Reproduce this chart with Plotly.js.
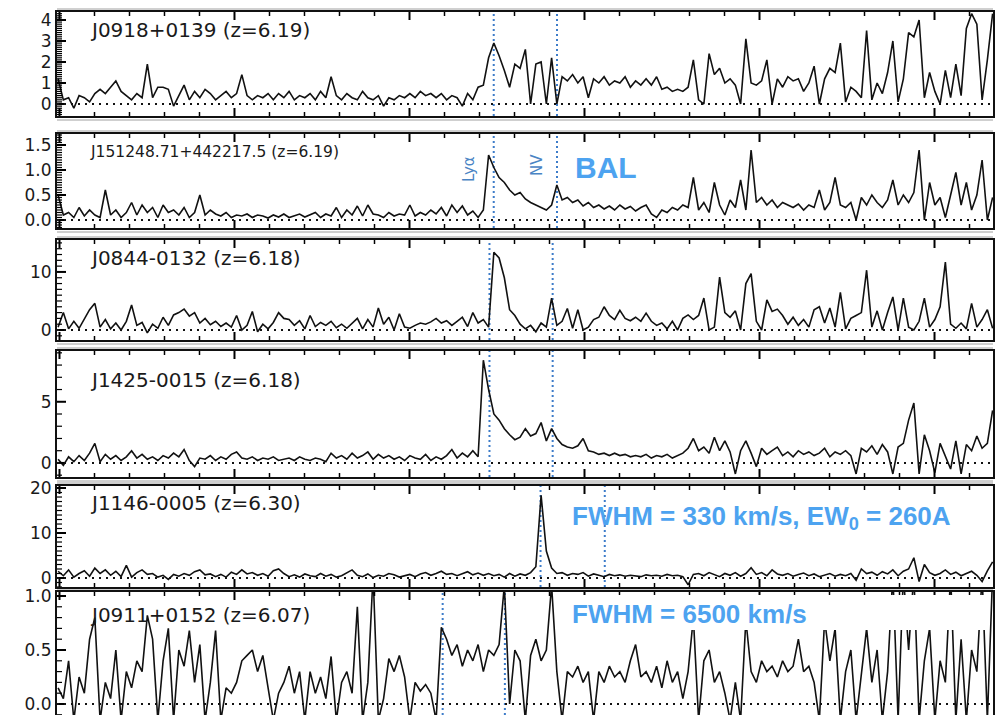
<!DOCTYPE html>
<html><head><meta charset="utf-8">
<script src="https://cdn.plot.ly/plotly-3.0.1.min.js"></script>
<style>html,body{margin:0;padding:0;background:#fff}#chart{width:995px;height:715px}</style>
</head><body><div id="chart"></div><script>
// ---------------- data ----------------
const quasars = ['J0918+0139', 'J151248.71+442217.5', 'J0844-0132', 'J1425-0015', 'J1146-0005', 'J0911+0152'];
const redshifts = [6.19, 6.19, 6.18, 6.18, 6.30, 6.07];
const zLabels = ['6.19', '6.19', '6.18', '6.18', '6.30', '6.07'];
const restLya = 1215.67;   // Angstrom
const restNV = 1240.81;    // Angstrom
const lambdaStart = 7496;  // first sample, Angstrom
const lambdaStep = 15;     // sample spacing, Angstrom

const flux1 = [1.2,0.2,0.3,-0.2,0.4,0.3,0.1,0.5,0.7,0.5,
  0.8,1.1,0.6,0.4,0.2,0.5,0.3,1.9,0.3,0.8,
  0.8,0.7,-0.1,0.4,0.9,0.2,0.6,0.3,0.7,0.5,
  0.2,0.4,0.6,0.3,0.5,1.4,0.4,0.2,0.4,0.3,
  0.5,0.2,0.5,0.3,0.6,0.2,0.4,0.3,0.5,0.2,
  0.6,0.3,1.3,0.4,0.2,0.5,0.3,0.2,0.6,0.3,
  0.2,0.4,-0.1,0.3,0.2,0.4,0.3,0.5,0.3,0.6,
  0.4,0.5,0.3,0.5,0.2,0.4,0.3,-0.1,0.5,0.2,
  0.8,0.9,2.2,2.9,2.3,1.6,0.8,1.9,1.7,2.6,
  0.0,1.9,2.0,0.0,2.2,0.0,1.3,1.1,1.4,1.0,
  1.3,0.3,1.2,1.0,1.3,0.9,1.1,1.0,1.3,0.8,
  1.1,0.9,1.2,0.9,1.3,0.7,0.8,0.6,0.7,0.6,
  0.8,2.1,0.2,0.0,2.4,1.4,1.7,1.0,1.2,0.9,
  0.0,3.1,1.0,0.9,1.1,2.1,0.0,1.2,0.8,1.3,
  1.1,1.2,0.6,1.0,1.8,0.0,1.2,1.7,1.5,2.9,
  0.1,0.8,0.6,0.3,3.5,0.2,1.0,0.5,1.5,3.0,
  0.1,1.2,3.4,3.2,4.0,0.3,1.5,0.6,0.0,1.6,
  0.3,1.9,0.4,3.6,4.3,3.8,0.2,2.1,4.3];

const flux2 = [0.5,0.1,0.15,0.05,0.25,0.08,0.2,0.1,0.05,0.6,
  0.1,0.2,0.05,0.15,0.35,0.1,0.3,0.15,0.25,0.05,
  0.3,0.15,0.2,0.1,0.25,0.05,0.15,0.5,0.1,0.2,
  0.12,0.08,0.15,0.05,0.1,0.08,0.12,0.05,0.1,0.08,
  0.04,0.1,0.06,0.12,0.05,0.08,0.12,0.06,0.1,0.15,
  0.05,0.12,0.08,0.25,0.05,0.2,0.1,0.28,0.08,0.3,
  0.12,0.1,0.05,0.15,0.08,0.12,0.1,0.3,0.08,0.15,
  0.1,0.2,0.12,0.25,0.08,0.3,0.15,0.28,0.1,0.18,
  0.05,0.2,1.3,1.05,0.85,0.75,0.6,0.5,0.55,0.42,
  0.35,0.3,0.25,0.2,0.3,0.7,0.4,0.45,0.35,0.4,
  0.28,0.35,0.25,0.3,0.22,0.28,0.2,0.3,0.22,0.27,
  0.18,0.25,0.3,0.12,0.05,0.2,0.15,0.25,0.2,0.3,
  0.25,0.85,0.2,0.35,0.15,0.75,0.3,0.1,0.4,0.25,
  0.8,0.2,1.4,0.35,0.45,0.3,0.4,0.25,0.35,0.3,
  0.25,0.32,0.2,0.3,0.25,0.6,0.2,0.35,0.85,0.3,
  0.25,0.35,0.0,0.45,0.3,0.5,0.35,0.25,0.4,0.8,
  0.3,0.5,0.35,0.55,1.4,0.0,0.75,0.3,0.45,0.05,
  0.5,0.95,0.3,0.75,0.2,0.5,1.2,0.0,0.45];

const flux3 = [0.5,3.0,0.2,1.5,0.3,2.0,3.5,4.6,0.5,1.8,
  0.2,1.2,0.0,1.5,4.3,0.8,1.3,-0.5,1.0,0.3,
  2.2,0.8,2.6,3.0,3.6,2.4,3.0,1.2,2.0,0.9,
  1.5,0.6,1.2,0.5,2.5,0.0,0.8,3.2,-0.3,1.0,
  0.2,1.3,3.0,2.0,1.8,0.8,1.6,0.2,2.5,0.6,
  1.3,0.8,1.5,0.4,1.0,0.3,1.2,2.0,0.2,1.8,
  0.5,3.8,1.0,2.2,0.0,2.8,0.5,0.3,0.8,1.2,
  1.0,1.4,2.0,1.2,1.6,0.8,1.5,2.2,0.6,3.0,
  1.2,1.8,0.5,13.4,12.4,9.0,3.5,2.5,1.0,0.2,
  0.8,-0.3,1.2,0.5,5.5,0.8,1.5,3.7,0.3,3.5,
  0.0,0.5,1.8,2.2,4.0,2.5,1.8,3.4,2.0,1.6,
  2.2,1.5,2.9,1.5,0.8,1.2,0.2,1.5,0.0,2.0,
  2.6,1.8,2.5,5.5,0.0,0.5,9.1,3.0,2.2,3.3,
  0.0,8.0,9.7,1.5,0.0,5.2,3.2,3.6,2.5,1.0,
  2.2,0.8,1.8,0.5,3.5,4.0,1.2,3.8,0.5,6.5,
  0.2,2.0,2.5,3.0,10.3,0.5,3.3,0.0,3.0,5.7,
  0.0,5.5,0.5,0.0,1.5,5.5,0.5,1.8,4.0,11.7,
  1.0,0.3,1.2,0.2,4.6,0.5,1.8,3.5,0.3];

const flux4 = [0.3,-0.2,0.5,0.1,0.6,0.2,0.8,1.6,0.1,0.7,
  0.3,0.6,0.2,0.5,1.0,0.4,0.7,0.3,0.5,0.2,
  0.6,0.4,0.8,0.5,1.1,0.2,-0.3,0.4,0.3,0.6,
  0.2,0.5,0.3,0.7,0.9,0.4,0.3,0.5,0.2,0.4,
  0.3,0.5,0.2,0.3,0.4,0.2,0.5,0.3,0.2,0.4,
  0.3,0.1,0.8,0.4,0.6,0.3,0.8,0.4,0.6,0.9,
  0.3,0.7,0.4,0.6,0.3,0.5,0.2,0.6,0.4,0.3,
  0.7,0.2,0.5,0.3,0.6,1.1,0.4,0.8,0.5,1.0,
  0.5,8.4,6.0,4.0,3.5,2.8,2.3,1.9,2.1,2.8,
  2.2,2.4,3.3,1.8,2.8,2.0,1.5,1.3,1.2,1.4,
  2.0,1.0,0.9,0.7,0.8,0.6,0.8,0.6,0.7,0.5,
  0.6,0.5,0.7,0.4,0.6,0.5,0.7,0.4,0.6,0.8,
  1.2,2.0,1.0,1.3,0.8,2.1,1.0,1.8,0.9,-0.9,
  1.0,1.8,0.8,-0.3,1.2,0.7,1.0,1.3,0.6,0.9,
  0.5,1.0,0.7,0.9,0.6,0.8,1.2,0.5,0.9,0.7,
  1.0,0.6,-0.9,1.2,0.9,1.4,0.7,1.5,0.9,-0.9,
  1.3,1.6,3.5,4.9,-0.9,2.3,1.0,-0.8,1.6,0.5,
  -0.5,1.8,-0.9,1.5,1.0,2.2,1.2,1.6,4.3];

const flux5 = [1.5,0.5,1.8,0.2,1.0,1.6,0.4,2.2,1.0,1.8,
  0.6,1.5,0.3,2.8,0.2,1.2,1.8,0.8,1.0,0.2,
  0.6,-0.3,0.8,0.4,1.0,0.6,1.4,1.8,0.7,0.9,
  0.3,0.8,0.2,1.3,0.8,1.8,0.9,1.2,0.6,1.0,
  0.4,1.6,2.0,1.0,0.3,0.7,0.2,0.9,0.5,0.3,
  1.0,0.4,0.8,0.2,0.5,1.2,1.8,0.6,0.3,0.9,
  0.1,0.6,0.4,1.0,0.7,0.2,0.5,0.8,0.3,0.9,
  1.2,0.6,1.0,1.5,0.8,1.0,0.5,0.9,1.4,0.7,
  1.1,0.6,1.0,0.5,0.8,0.2,1.0,0.4,0.9,0.6,
  1.2,2.5,18.4,6.0,2.2,1.0,1.2,0.6,1.0,0.8,
  1.2,0.4,0.9,0.6,0.3,0.8,0.5,0.7,0.4,0.6,
  0.5,0.3,0.7,0.5,0.6,0.4,0.8,0.5,0.6,0.3,
  -1.5,0.8,1.0,0.5,1.2,0.7,0.3,1.0,0.6,1.2,
  0.4,1.0,2.3,0.8,1.2,0.5,1.8,0.9,0.6,1.0,
  0.4,0.8,1.1,0.5,0.9,0.3,0.7,1.0,0.4,0.8,
  0.5,1.0,-0.5,2.0,1.0,1.3,0.6,1.4,0.9,1.8,
  0.5,1.5,2.0,4.5,-0.8,3.0,1.2,0.6,1.0,1.8,
  0.8,1.3,0.5,1.0,1.5,0.6,-0.8,1.6,3.6];

const flux6 = [0.15,0.05,0.4,-0.15,0.25,0.1,0.6,0.8,-0.15,0.2,
  0.05,0.5,-0.15,0.3,0.15,0.4,0.3,0.82,0.6,-0.15,
  0.4,0.7,-0.15,0.5,0.35,0.68,0.2,0.55,-0.15,0.2,
  0.68,-0.15,0.15,0.1,0.2,0.4,0.45,0.5,0.3,0.45,
  0.15,-0.15,0.1,0.2,0.35,0.1,0.3,-0.15,0.3,0.1,
  0.25,0.05,0.44,-0.15,0.2,0.3,0.1,0.9,-0.15,0.2,
  1.2,-0.15,0.05,0.42,0.3,0.45,0.25,-0.15,0.2,0.12,
  0.18,0.1,-0.15,0.71,0.6,0.45,0.55,0.35,0.5,0.4,
  0.55,0.3,0.5,0.45,0.55,1.1,0.0,0.5,0.4,-0.15,
  0.45,0.6,0.4,0.5,1.1,0.3,-0.15,0.3,0.25,0.35,
  0.2,0.3,-0.15,0.3,0.2,0.35,0.25,0.3,0.2,0.4,
  0.55,0.25,0.3,0.2,0.35,0.15,0.4,0.2,0.3,0.05,
  0.3,0.8,-0.15,0.4,0.5,0.2,0.3,0.1,-0.15,0.2,
  -0.15,0.78,0.3,0.2,0.4,0.3,0.35,0.25,0.4,0.3,
  0.35,0.6,0.3,0.35,0.2,-0.15,0.78,0.4,0.7,-0.15,
  0.3,0.5,-0.15,0.3,0.7,0.2,0.5,-0.15,0.3,1.2,
  -0.15,1.2,0.5,1.2,-0.15,0.4,0.7,-0.15,0.4,0.2,
  1.2,-0.15,0.6,-0.15,0.5,0.3,1.2,-0.15,1.2];

const fluxes = [flux1, flux2, flux3, flux4, flux5, flux6];
const yTickStep = [1, 0.5, 10, 5, 10, 0.5];
const yMinorStep = [0.1, 0.05, 1, 1, 1, 0.1];
const xTickStep = 500, xMinorStep = 100;

// ---------------- layout geometry ----------------
const W = 995, H = 715, ML = 57, MR = 2;
const PW = W - ML - MR;
const panelTop = [12, 134, 240, 351, 486, 592];
const panelBot = [116, 228, 340, 477, 587, 715];
const yRanges = [[-0.57, 4.38], [-0.16, 1.72], [-1.72, 15.5], [-1.15, 9.15], [-2.0, 20.45], [-0.102, 1.037]];
const xRange = [7492.9, 10167.1];
const px = x => (x - ML) / PW;
const py = y => 1 - y / H;
const BLUE = '#4da3f0';
const LINEBLUE = '#3d7cc9';
const TXT = '#1a1a1a';

const traces = [];
const layout = {
  width: W, height: H,
  margin: {l: ML, r: MR, t: 0, b: 0, pad: 0},
  paper_bgcolor: '#fff', plot_bgcolor: '#fff',
  showlegend: false,
  shapes: [], annotations: []
};

for (let k = 0; k < 6; k++) {
  const sfx = k === 0 ? '' : String(k + 1);
  const isLast = k === 5;
  traces.push({
    type: 'scatter', mode: 'lines',
    x0: lambdaStart, dx: lambdaStep, y: fluxes[k],
    xaxis: 'x' + sfx, yaxis: 'y' + sfx,
    line: {color: '#111', width: 1.6},
    hoverinfo: 'skip'
  });
  layout['xaxis' + sfx] = {
    range: xRange, anchor: 'y' + sfx,
    showticklabels: false, showgrid: false, zeroline: false, ticks: '',
    showline: true, linewidth: 2, linecolor: '#111',
    mirror: !isLast, side: isLast ? 'top' : 'bottom'
  };
  layout['yaxis' + sfx] = {
    domain: [py(panelBot[k]), py(panelTop[k])],
    range: yRanges[k], anchor: 'x' + sfx,
    showgrid: false, zeroline: false, ticks: '',
    dtick: yTickStep[k], tick0: 0,
    tickformat: (k === 1 || k === 5) ? '.1f' : '',
    showline: true, linewidth: 2, linecolor: '#111', mirror: true,
    tickfont: {family: 'DejaVu Sans', size: 17, color: TXT}
  };

  // tick marks along the frame (major every 500 A, minor every 100 A), pointing inward
  for (let j = Math.ceil(xRange[0] / xMinorStep); j * xMinorStep <= xRange[1]; j++) {
    const v = j * xMinorStep;
    const major = v % xTickStep === 0;
    const len = major ? 8 : 4;
    const lw = major ? 2 : 1.5;
    layout.shapes.push({type: 'line', xref: 'x' + sfx, x0: v, x1: v, yref: 'paper',
      y0: py(panelTop[k]), y1: py(panelTop[k] + len), line: {color: '#000', width: lw}, layer: 'above'});
    if (!isLast) layout.shapes.push({type: 'line', xref: 'x' + sfx, x0: v, x1: v, yref: 'paper',
      y0: py(panelBot[k]), y1: py(panelBot[k] - len), line: {color: '#000', width: lw}, layer: 'above'});
  }
  // y tick marks on the left frame
  {
    const lo = yRanges[k][0], hi = yRanges[k][1], ms = yMinorStep[k], Ms = yTickStep[k];
    for (let j = Math.ceil(lo / ms - 1e-9); j * ms <= hi + 1e-9; j++) {
      const v = j * ms;
      const r = v / Ms;
      const major = Math.abs(r - Math.round(r)) < 1e-6;
      const len = major ? 9 : 5;
      layout.shapes.push({type: 'line', xref: 'paper', x0: 0, x1: len / PW, yref: 'y' + sfx, y0: v, y1: v,
        line: {color: '#000', width: major ? 2 : 1.2}, layer: 'above'});
    }
  }
  // zero level
  layout.shapes.push({
    type: 'line', xref: 'x' + sfx + ' domain', x0: 0, x1: 1,
    yref: 'y' + sfx, y0: 0, y1: 0,
    line: {color: '#111', width: 2, dash: '2px,5px'}, layer: 'above'
  });
  // Lya and NV positions
  [restLya, restNV].forEach(rest => {
    const lam = rest * (1 + redshifts[k]);
    layout.shapes.push({
      type: 'line', xref: 'x' + sfx, x0: lam, x1: lam,
      yref: 'y' + sfx + ' domain', y0: 0, y1: 1,
      line: {color: LINEBLUE, width: 2, dash: '2px,3px'}, layer: 'below'
    });
  });
  // faint outer rule lines (double frame look)
  layout.shapes.push({type: 'line', xref: 'paper', yref: 'paper', x0: 0, x1: 1, layer: 'below',
    y0: py(panelTop[k] - 3), y1: py(panelTop[k] - 3), line: {color: '#a0a0a0', width: 1}});
  if (!isLast) layout.shapes.push({type: 'line', xref: 'paper', yref: 'paper', x0: 0, x1: 1, layer: 'below',
    y0: py(panelBot[k] + 4), y1: py(panelBot[k] + 4), line: {color: '#a0a0a0', width: 1}});
}

// white box behind the lower FWHM label
layout.shapes.push({type: 'rect', xref: 'paper', yref: 'paper',
  x0: px(572), x1: px(985), y0: py(630), y1: py(595),
  fillcolor: '#fff', line: {width: 0}, layer: 'above'});

// object names
const nameY = [30, 152, 258, 380, 503, 615];
for (let k = 0; k < 6; k++) {
  const small = k === 1;
  layout.annotations.push({
    xref: 'paper', yref: 'paper', x: px(88), y: py(nameY[k]),
    xanchor: 'left', yanchor: 'middle', showarrow: false,
    text: quasars[k] + ' (z=' + zLabels[k] + ')',
    font: {family: 'DejaVu Sans', size: small ? 15.5 : 20, color: TXT}
  });
}
// line labels
layout.annotations.push({xref: 'paper', yref: 'paper', x: px(469), y: py(154), showarrow: false,
  text: 'Lyα', textangle: -90, font: {family: 'DejaVu Sans', size: 15, color: '#4a84c4'}});
layout.annotations.push({xref: 'paper', yref: 'paper', x: px(537), y: py(152), showarrow: false,
  text: 'NV', textangle: -90, font: {family: 'DejaVu Sans', size: 15, color: '#4a84c4'}});
// blue remarks
layout.annotations.push({xref: 'paper', yref: 'paper', x: px(573), y: py(167), xanchor: 'left', yanchor: 'middle',
  showarrow: false, text: '<b>BAL</b>', font: {family: 'Liberation Sans', size: 30, color: BLUE}});
layout.annotations.push({xref: 'paper', yref: 'paper', x: px(570), y: py(517), xanchor: 'left', yanchor: 'middle',
  showarrow: false, text: '<b>FWHM = 330 km/s, EW<sub>0</sub> = 260A</b>', font: {family: 'Liberation Sans', size: 26, color: BLUE}});
layout.annotations.push({xref: 'paper', yref: 'paper', x: px(570), y: py(614), xanchor: 'left', yanchor: 'middle',
  showarrow: false, text: '<b>FWHM = 6500 km/s</b>', font: {family: 'Liberation Sans', size: 26, color: BLUE}});

Plotly.newPlot('chart', traces, layout, {staticPlot: true, displayModeBar: false});
</script></body></html>
